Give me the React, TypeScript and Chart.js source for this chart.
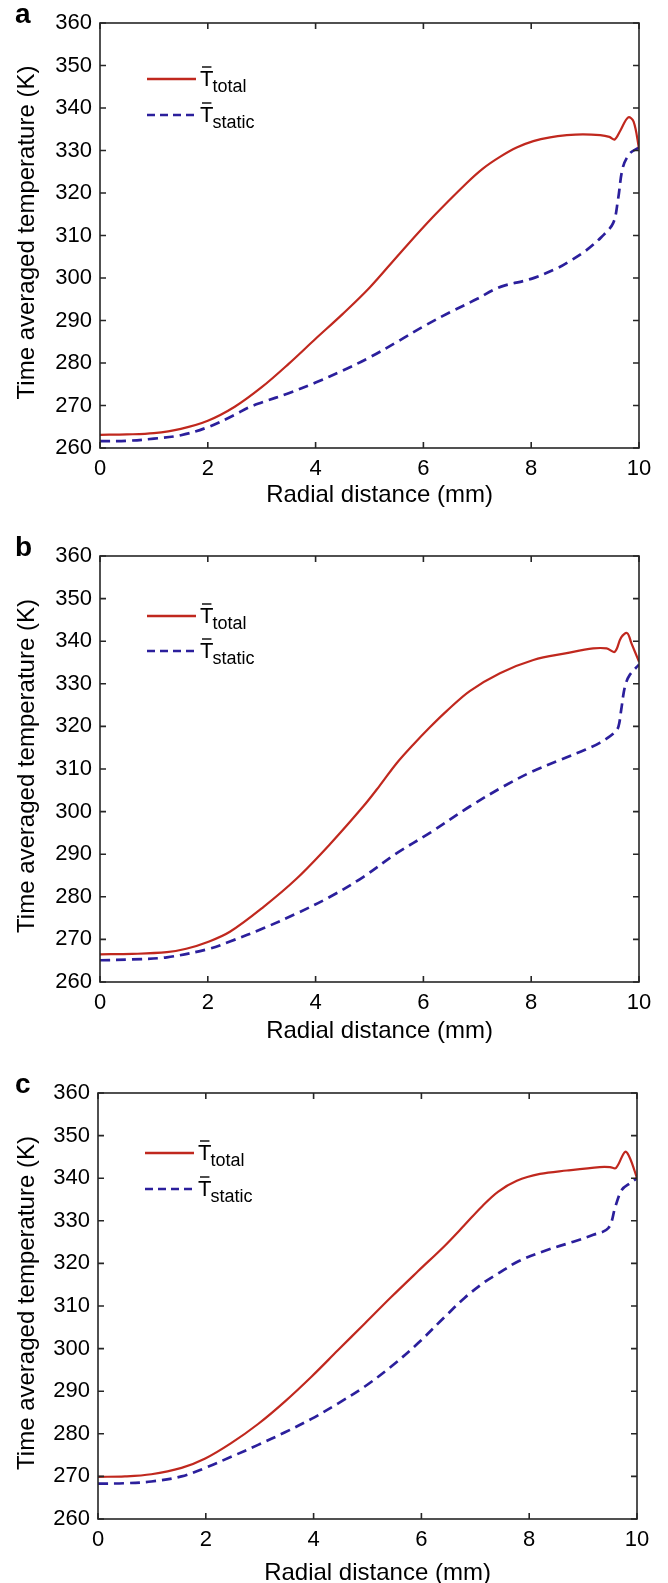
import React, { useEffect, useRef } from 'react';
import { Chart, registerables } from 'chart.js';

Chart.register(...registerables);

// ---------- data ----------
const xAxisTitle = 'Radial distance (mm)';
const yAxisTitle = 'Time averaged temperature (K)';
const legendMain = 'T';
const legendSubs = ['total', 'static'];
const panelLetters = ['a', 'b', 'c'];

const xMin = 0, xMax = 10, xStep = 2;
const yMin = 260, yMax = 360, yStep = 10;

// panel a
const xTotalA = [0, 0.5, 1.0, 1.5, 2.0, 2.5, 3.0, 3.5, 4.0, 4.5, 5.0, 5.57, 6.18, 6.8, 7.11, 7.42, 7.73, 8.04, 8.35, 8.66, 8.96, 9.28, 9.45, 9.55, 9.65, 9.8, 9.9, 10];
const totalA = [263.1, 263.2, 263.5, 264.5, 266.4, 269.7, 274.3, 279.8, 285.7, 291.5, 297.7, 305.9, 314.4, 322.3, 325.8, 328.5, 330.7, 332.2, 333.1, 333.6, 333.8, 333.6, 333.2, 332.6, 334.6, 337.8, 336.8, 330.5];
const xStaticA = [0, 0.5, 1.0, 1.5, 2.0, 2.5, 2.75, 3.0, 3.5, 4.0, 4.5, 5.0, 5.57, 6.0, 6.5, 7.0, 7.3, 7.5, 8.0, 8.5, 8.72, 9.0, 9.3, 9.52, 9.61, 9.7, 9.83, 10];
const staticA = [261.6, 261.7, 262.2, 263.0, 264.9, 267.8, 269.5, 270.7, 272.9, 275.4, 278.2, 281.3, 285.4, 288.6, 292.0, 295.1, 297.2, 298.2, 299.8, 302.4, 304.0, 306.3, 309.6, 312.9, 318.4, 326.0, 329.3, 330.7];

// panel b
const xTotalB = [0, 0.6, 1.24, 1.6, 2.0, 2.41, 3.03, 3.65, 4.27, 4.89, 5.19, 5.5, 5.81, 6.12, 6.43, 6.86, 7.42, 8.04, 8.66, 9.15, 9.4, 9.55, 9.67, 9.78, 9.86, 10];
const totalB = [266.5, 266.6, 267.0, 267.8, 269.4, 271.8, 277.6, 284.3, 292.4, 301.3, 306.1, 311.3, 315.7, 319.8, 323.6, 328.3, 332.5, 335.6, 337.2, 338.3, 338.3, 337.5, 340.9, 341.9, 339.5, 335.2];
const xStaticB = [0, 0.6, 1.24, 2.0, 2.41, 3.03, 3.65, 4.27, 4.89, 5.5, 6.12, 6.86, 7.5, 8.0, 8.53, 9.0, 9.28, 9.55, 9.62, 9.67, 9.74, 9.83, 10];
const staticB = [265.1, 265.3, 265.8, 267.7, 269.5, 272.6, 276.1, 280.0, 284.7, 290.2, 295.0, 301.2, 306.0, 309.3, 312.1, 314.5, 316.2, 318.6, 320.0, 323.9, 329.4, 332.1, 334.5];

// panel c
const xTotalC = [0, 0.5, 0.99, 1.55, 1.99, 2.47, 2.97, 3.46, 3.96, 4.45, 4.95, 5.44, 5.94, 6.43, 6.8, 7.11, 7.42, 7.77, 8.2, 8.7, 9.31, 9.5, 9.61, 9.78, 9.87, 10];
const totalC = [269.9, 270.0, 270.5, 272.0, 274.2, 277.8, 282.3, 287.5, 293.4, 299.6, 305.9, 312.1, 318.2, 324.1, 329.0, 333.2, 336.8, 339.4, 341.0, 341.8, 342.6, 342.6, 342.4, 346.2, 344.7, 340.0];
const xStaticC = [0, 0.5, 0.99, 1.55, 1.99, 2.47, 2.97, 3.46, 3.96, 4.45, 4.95, 5.44, 5.94, 6.43, 6.8, 7.17, 7.42, 7.8, 8.32, 8.82, 9.19, 9.47, 9.6, 9.72, 9.87, 10];
const staticC = [268.3, 268.4, 268.8, 270.0, 272.0, 274.6, 277.4, 280.3, 283.5, 287.1, 291.1, 295.8, 301.3, 307.4, 311.9, 315.6, 317.6, 320.5, 323.1, 325.1, 326.7, 328.3, 333.4, 337.3, 338.8, 340.0];

// ---------- styling / layout ----------
const RED = '#c0281e';
const BLUE = '#2b1f9c';
const AXIS = '#262626';
const FONT = '"Liberation Sans", Arial, Helvetica, sans-serif';

type Panel = {
  letter: string;
  top: number; height: number;
  plotTop: number; plotBottom: number; plotLeft: number; plotRight: number;
  legTotal: number; legStatic: number; titleOff: number;
  xt: number[]; yt: number[]; xs: number[]; ys: number[];
};

const panels: Panel[] = [
  { letter: panelLetters[0], top: 0, height: 528, plotTop: 23, plotBottom: 448, plotLeft: 100, plotRight: 639, legTotal: 56, legStatic: 92, titleOff: 47, xt: xTotalA, yt: totalA, xs: xStaticA, ys: staticA },
  { letter: panelLetters[1], top: 528, height: 528, plotTop: 28, plotBottom: 454, plotLeft: 100, plotRight: 639, legTotal: 60, legStatic: 95, titleOff: 49, xt: xTotalB, yt: totalB, xs: xStaticB, ys: staticB },
  { letter: panelLetters[2], top: 1056, height: 527, plotTop: 37, plotBottom: 463, plotLeft: 98, plotRight: 637, legTotal: 60, legStatic: 96, titleOff: 54, xt: xTotalC, yt: totalC, xs: xStaticC, ys: staticC },
];

const toPoints = (xs: number[], ys: number[]) => xs.map((x, i) => ({ x, y: ys[i] }));

const decorPlugin = {
  id: 'decor',
  afterDraw(chart: any, _args: any, opts: any) {
    const p: Panel = opts.panel;
    const ctx = chart.ctx;
    const { left, right, top, bottom } = chart.chartArea;
    const xs = chart.scales.x;
    const ys = chart.scales.y;
    ctx.save();
    // frame
    ctx.strokeStyle = AXIS;
    ctx.lineWidth = 1.6;
    ctx.strokeRect(left, top, right - left, bottom - top);
    // inward ticks on all sides
    const tl = 6;
    ctx.beginPath();
    for (let v = xMin; v <= xMax; v += xStep) {
      const px = xs.getPixelForValue(v);
      ctx.moveTo(px, bottom); ctx.lineTo(px, bottom - tl);
      ctx.moveTo(px, top); ctx.lineTo(px, top + tl);
    }
    for (let v = yMin; v <= yMax; v += yStep) {
      const py = ys.getPixelForValue(v);
      ctx.moveTo(left, py); ctx.lineTo(left + tl, py);
      ctx.moveTo(right, py); ctx.lineTo(right - tl, py);
    }
    ctx.stroke();

    // axis titles
    ctx.fillStyle = '#000';
    ctx.font = `24px ${FONT}`;
    ctx.textAlign = 'center';
    ctx.textBaseline = 'middle';
    ctx.fillText(xAxisTitle, (left + right) / 2 + 10, bottom + p.titleOff);
    ctx.save();
    ctx.translate(27, (top + bottom) / 2 - 3);
    ctx.rotate(-Math.PI / 2);
    ctx.fillText(yAxisTitle, 0, 0);
    ctx.restore();

    // panel letter
    ctx.font = `bold 28px ${FONT}`;
    ctx.textAlign = 'left';
    ctx.textBaseline = 'alphabetic';
    ctx.fillText(p.letter, 15, top);

    // legend
    const lx0 = left + 47, lx1 = left + 96, tx = left + 100;
    const rows = [
      { y: top + p.legTotal, color: RED, dash: [] as number[], width: 2.3, sub: legendSubs[0] },
      { y: top + p.legStatic, color: BLUE, dash: [8, 5], width: 2.6, sub: legendSubs[1] },
    ];
    rows.forEach((r) => {
      ctx.strokeStyle = r.color;
      ctx.lineWidth = r.width;
      ctx.setLineDash(r.dash);
      ctx.beginPath();
      ctx.moveTo(lx0, r.y); ctx.lineTo(lx1, r.y);
      ctx.stroke();
      ctx.setLineDash([]);
      ctx.fillStyle = '#000';
      ctx.font = `22px ${FONT}`;
      ctx.fillText(legendMain, tx, r.y + 7);
      const tw = ctx.measureText(legendMain).width;
      // overbar
      ctx.strokeStyle = '#000';
      ctx.lineWidth = 1.4;
      ctx.beginPath();
      ctx.moveTo(tx + 2, r.y - 12); ctx.lineTo(tx + tw - 2, r.y - 12);
      ctx.stroke();
      ctx.font = `18px ${FONT}`;
      ctx.fillText(r.sub, tx + tw - 1, r.y + 13);
    });
    ctx.restore();
  },
};

function PanelChart({ p }: { p: Panel }) {
  const ref = useRef<HTMLCanvasElement | null>(null);
  useEffect(() => {
    if (!ref.current) return;
    const chart = new Chart(ref.current, {
      type: 'line',
      data: {
        datasets: [
          {
            label: 'total',
            data: toPoints(p.xt, p.yt),
            borderColor: RED,
            borderWidth: 2.2,
            pointRadius: 0,
            tension: 0.35,
            fill: false,
          },
          {
            label: 'static',
            data: toPoints(p.xs, p.ys),
            borderColor: BLUE,
            borderWidth: 2.7,
            borderDash: [10, 6],
            pointRadius: 0,
            tension: 0.35,
            fill: false,
          },
        ],
      },
      options: {
        animation: false,
        responsive: false,
        devicePixelRatio: 1,
        layout: { padding: { top: p.plotTop, right: 668 - p.plotRight, left: 0, bottom: 0 } },
        plugins: {
          legend: { display: false },
          tooltip: { enabled: false },
          decor: { panel: p },
        } as any,
        scales: {
          x: {
            type: 'linear',
            min: xMin,
            max: xMax,
            grid: { display: false, drawTicks: false },
            border: { display: false },
            ticks: { stepSize: xStep, font: { family: FONT, size: 22 }, color: '#000', padding: 8, maxRotation: 0 },
            afterFit: (s: any) => { s.height = p.height - p.plotBottom; },
          },
          y: {
            type: 'linear',
            min: yMin,
            max: yMax,
            grid: { display: false, drawTicks: false },
            border: { display: false },
            ticks: { stepSize: yStep, font: { family: FONT, size: 22 }, color: '#000', padding: 8 },
            afterFit: (s: any) => { s.width = p.plotLeft; },
          },
        },
      } as any,
      plugins: [decorPlugin],
    });
    return () => chart.destroy();
  }, [p]);
  return (
    <canvas
      ref={ref}
      width={668}
      height={p.height}
      style={{ position: 'absolute', left: 0, top: p.top, width: 668, height: p.height }}
    />
  );
}

export default function App() {
  return (
    <div style={{ position: 'absolute', left: 0, top: 0, width: 668, height: 1583, background: '#fff' }}>
      {panels.map((p) => (
        <PanelChart key={p.letter} p={p} />
      ))}
    </div>
  );
}
